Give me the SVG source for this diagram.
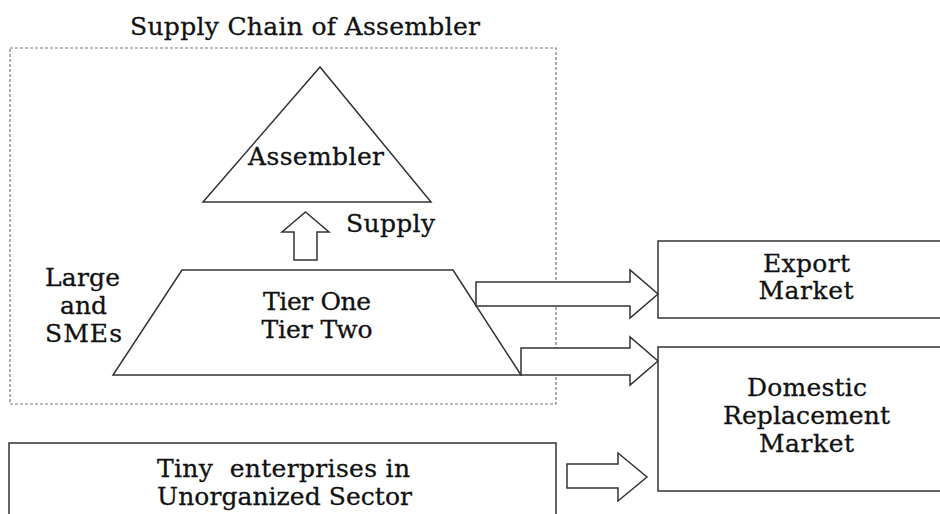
<svg xmlns="http://www.w3.org/2000/svg" width="940" height="514" viewBox="0 0 940 514">
<style>
text{font-family:"DejaVu Serif","Liberation Serif",serif;font-size:25px;fill:#111;stroke:#111;stroke-width:0.3;text-anchor:middle}
.shape{fill:#fff;stroke:#333;stroke-width:1.5}
.arrow{fill:#fff;stroke:#333;stroke-width:1.5;stroke-linejoin:miter}
.dash{fill:none;stroke:#777;stroke-width:1.2;stroke-dasharray:3 2}
</style>
<rect width="940" height="514" fill="#fff"/>
<g id="container">
<rect class="dash" x="10" y="48" width="546" height="356"/>
<text x="305" y="35" textLength="350" lengthAdjust="spacing">Supply Chain of Assembler</text>
</g>
<g id="assembler">
<polygon class="shape" points="320,67 203,202 431,202"/>
<text x="316" y="165" textLength="136" lengthAdjust="spacing">Assembler</text>
</g>
<g id="tiers">
<polygon class="shape" points="182,270 453,270 521,375 113,375"/>
<text x="317" y="310" textLength="108" lengthAdjust="spacing">Tier One</text>
<text x="317" y="338" textLength="111" lengthAdjust="spacing">Tier Two</text>
</g>
<g id="large-smes">
<text x="82.5" y="286" textLength="75" lengthAdjust="spacing">Large</text>
<text x="83.5" y="314" textLength="47" lengthAdjust="spacing">and</text>
<text x="83.5" y="342" textLength="77" lengthAdjust="spacing">SMEs</text>
</g>
<g id="tiny">
<rect class="shape" x="9" y="443" width="547" height="90"/>
<text x="283.5" y="477" textLength="253" lengthAdjust="spacing" xml:space="preserve">Tiny  enterprises in</text>
<text x="284.5" y="505" textLength="255" lengthAdjust="spacing">Unorganized Sector</text>
</g>
<g id="export">
<rect class="shape" x="658" y="241" width="300" height="77"/>
<text x="806.5" y="272" textLength="87" lengthAdjust="spacing">Export</text>
<text x="806" y="299" textLength="95" lengthAdjust="spacing">Market</text>
</g>
<g id="domestic">
<rect class="shape" x="658" y="347" width="300" height="144"/>
<text x="807" y="396" textLength="120" lengthAdjust="spacing">Domestic</text>
<text x="806.5" y="424" textLength="167" lengthAdjust="spacing">Replacement</text>
<text x="806.5" y="452" textLength="95" lengthAdjust="spacing">Market</text>
</g>
<g id="connectors">
<polygon class="arrow" points="305.5,212 329,232 317,232 317,260 294,260 294,232 282,232"/>
<text x="390.5" y="232" textLength="89" lengthAdjust="spacing">Supply</text>
<polygon class="arrow" points="476,282 630,282 630,270 658,294 630,318 630,306 476,306"/>
<polygon class="arrow" points="521,348 630,348 630,337 658,361 630,385 630,375 521,375"/>
<polygon class="arrow" points="567,464 618,464 618,453 647,477 618,501 618,488 567,488"/>
</g>
</svg>
